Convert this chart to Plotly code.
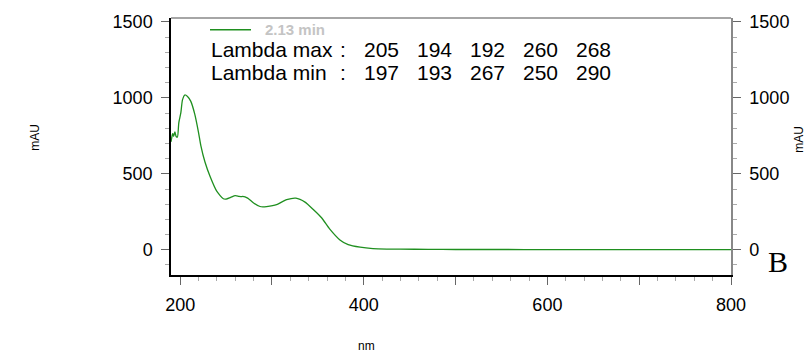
import plotly.graph_objects as go

# UV spectrum of the peak at 2.13 min (wavelength in nm, absorbance in mAU)
wavelength = [190, 191.6, 192, 192.7, 193, 194.2, 195.6, 197, 198.5, 200.7, 202.5, 205,
              208, 211.6, 216, 220, 222.5, 227, 232.7, 240, 247, 250, 255, 260, 264,
              267, 268, 273.5, 280, 287, 290, 294, 305, 316, 326, 336, 345, 354, 363,
              374, 383, 396, 410, 425, 440, 470, 500, 550, 600, 650, 700, 750, 800]
absorbance = [711, 761, 765, 750, 748, 776, 746, 742, 836, 901, 987, 1019,
              1009, 977, 890, 772, 686, 578, 481, 384, 336, 334, 345, 356, 352,
              350, 351, 340, 308, 285, 282, 284, 297, 330, 340, 314, 265, 211, 136,
              65, 34, 17, 8, 5, 4, 3, 2, 2, 1, 1, 1, 1, 1]

peak_label = "2.13 min"
lambda_max = [205, 194, 192, 260, 268]
lambda_min = [197, 193, 267, 250, 290]

x_major = [200, 300, 400, 500, 600, 700, 800]
x_labels = ["200", "", "400", "", "600", "", "800"]
y_major = [0, 500, 1000, 1500]

FONT = "Liberation Sans, Arial, sans-serif"
GREEN = "#1f8f1f"
TICK_SIZE = 18

# plot-area geometry in pixels, used to place the free text
L, R, T, B = 171, 731, 13, 275
W, H = R - L, B - T


def px(x):
    return (x - L) / W


def py(y):
    return (B - y) / H


fig = go.Figure()
fig.add_trace(go.Scatter(x=wavelength, y=absorbance, mode="lines",
                         line=dict(color=GREEN, width=1.3, shape="spline", smoothing=0.6),
                         showlegend=False, hoverinfo="skip"))
# twin trace so the right-hand axis is drawn
fig.add_trace(go.Scatter(x=wavelength, y=absorbance, mode="lines", yaxis="y2",
                         line=dict(color="rgba(0,0,0,0)", width=0),
                         showlegend=False, hoverinfo="skip"))

yrange = [-166, 1526]
minor_y = dict(dtick=100, tick0=0, ticks="outside", ticklen=4,
               tickcolor="#aaa", showgrid=False)
fig.update_layout(
    width=808, height=353,
    margin=dict(l=L, r=808 - R, t=T, b=353 - B),
    paper_bgcolor="white", plot_bgcolor="white",
    font=dict(family=FONT, size=14, color="black"),
    xaxis=dict(range=[190, 800], tickmode="array", tickvals=x_major, ticktext=x_labels,
               ticks="outside", ticklen=8, tickwidth=1, tickcolor="#666",
               showline=True, linecolor="black", linewidth=1.5, showgrid=False,
               zeroline=False, ticklabelstandoff=5,
               tickfont=dict(size=TICK_SIZE),
               minor=dict(dtick=20, tick0=200, ticks="outside", ticklen=4,
                          tickcolor="#aaa", showgrid=False)),
    yaxis=dict(range=yrange, tickmode="array", tickvals=y_major,
               ticks="outside", ticklen=8, tickwidth=1, tickcolor="#666",
               showline=True, linecolor="black", linewidth=1.5, showgrid=False,
               zeroline=False, ticklabelstandoff=5, tickfont=dict(size=TICK_SIZE),
               minor=minor_y),
    yaxis2=dict(range=yrange, overlaying="y", side="right", tickmode="array",
                tickvals=y_major, ticks="outside", ticklen=8, tickwidth=1,
                tickcolor="#666", showline=True, linecolor="#888", linewidth=1.5,
                showgrid=False, zeroline=False, ticklabelstandoff=5,
                tickfont=dict(size=TICK_SIZE), minor=minor_y),
)

# top frame line
fig.add_shape(type="line", xref="paper", yref="paper", x0=0, x1=1, y0=1, y1=1,
              line=dict(color="#888", width=1.5))

# legend entry drawn by hand
fig.add_shape(type="line", xref="paper", yref="paper", x0=px(210), x1=px(251),
              y0=py(25), y1=py(25), line=dict(color=GREEN, width=1.3))
fig.add_annotation(text=f"<b>{peak_label}</b>", xref="paper", yref="paper",
                   x=px(263), y=py(25), xanchor="left", yanchor="middle",
                   showarrow=False, font=dict(size=15, color="#c4c4c4"))

row_y = [45, 69]
row_names = ["Lambda max", "Lambda min"]
for name, vals, yy in zip(row_names, [lambda_max, lambda_min], row_y):
    fig.add_annotation(text=name, xref="paper", yref="paper", x=px(209),
                       y=py(yy), xanchor="left", yanchor="middle", showarrow=False,
                       font=dict(size=21))
    fig.add_annotation(text=":", xref="paper", yref="paper", x=px(338),
                       y=py(yy), xanchor="left", yanchor="middle", showarrow=False,
                       font=dict(size=21))
    for i, v in enumerate(vals):
        fig.add_annotation(text=str(v), xref="paper", yref="paper",
                           x=px(381 + 53 * i), y=py(yy), xanchor="center",
                           yanchor="middle", showarrow=False, font=dict(size=21))

# axis titles
fig.add_annotation(text="mAU", xref="paper", yref="paper", x=px(35), y=py(135),
                   textangle=-90, showarrow=False, xanchor="center",
                   yanchor="middle", font=dict(size=12))
fig.add_annotation(text="mAU", xref="paper", yref="paper", x=px(799), y=py(137),
                   textangle=-90, showarrow=False, xanchor="center",
                   yanchor="middle", font=dict(size=12))
fig.add_annotation(text="nm", xref="paper", yref="paper", x=px(366), y=py(347),
                   showarrow=False, xanchor="center", yanchor="middle",
                   font=dict(size=12))
fig.add_annotation(text="B", xref="paper", yref="paper", x=px(778), y=py(261),
                   showarrow=False, xanchor="center", yanchor="middle",
                   font=dict(size=30, family="Liberation Serif, Times New Roman, serif"))

fig.write_html("out.html")
